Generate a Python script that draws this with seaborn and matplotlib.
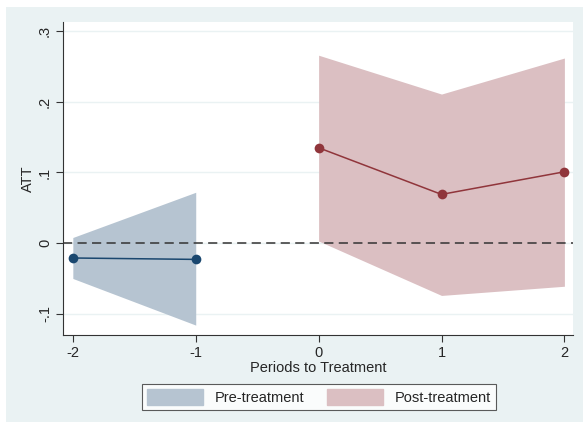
import numpy as np
import pandas as pd
import matplotlib
matplotlib.use("Agg")
import matplotlib.pyplot as plt
import matplotlib.patches as mpatches
import seaborn as sns

# datos
periodos_pre = [-2, -1]
att_pre = [-0.021, -0.023]
ci_low_pre = [-0.050, -0.116]
ci_high_pre = [0.008, 0.072]

periodos_post = [0, 1, 2]
att_post = [0.135, 0.069, 0.101]
ci_low_post = [0.003, -0.074, -0.061]
ci_high_post = [0.266, 0.211, 0.262]

yticks = [-0.1, 0, 0.1, 0.2, 0.3]
ytick_labels = ["-.1", "0", ".1", ".2", ".3"]
xticks = [-2, -1, 0, 1, 2]

navy = "#1a476f"
maroon = "#90353b"
fill_pre = "#b6c4d1"
fill_post = "#dbbfc2"
fondo = "#eaf2f3"

sns.set_style("white")
plt.rcParams["font.family"] = ["Liberation Sans", "DejaVu Sans"]

fig = plt.figure(figsize=(5.83, 4.26), dpi=100, facecolor="white")
fig.patches.append(mpatches.Rectangle((6 / 583, 4 / 426), 1 - 6 / 583, 1 - 11 / 426,
                                      transform=fig.transFigure, facecolor=fondo,
                                      edgecolor="none", zorder=-10))
ax = fig.add_axes([63 / 583, 91 / 426, 510 / 583, 313 / 426])
ax.set_facecolor("white")

df_pre = pd.DataFrame({"t": periodos_pre, "att": att_pre})
df_post = pd.DataFrame({"t": periodos_post, "att": att_post})

for y in yticks:
    ax.axhline(y, color=fondo, lw=1.0, zorder=0)

ax.fill_between(periodos_pre, ci_low_pre, ci_high_pre, color=fill_pre, lw=0, zorder=1)
ax.fill_between(periodos_post, ci_low_post, ci_high_post, color=fill_post, lw=0, zorder=1)
ax.axhline(0, color="#333333", lw=1.1, ls=(0, (6, 3.5)), zorder=2)

sns.lineplot(data=df_pre, x="t", y="att", ax=ax, color=navy, marker="o",
             markersize=7, markeredgewidth=0, lw=1.1, zorder=3)
sns.lineplot(data=df_post, x="t", y="att", ax=ax, color=maroon, marker="o",
             markersize=7, markeredgewidth=0, lw=1.1, zorder=3)

ax.set_xlim(-2.08, 2.07)
ax.set_ylim(-0.13, 0.313)
ax.set_xticks(xticks)
ax.set_xticklabels([str(x) for x in xticks], fontsize=10.5)
ax.set_yticks(yticks)
ax.set_yticklabels(ytick_labels, fontsize=10.5, rotation=90, va="center")
ax.tick_params(axis="both", length=5, width=0.8, color="#333333", direction="out",
               bottom=True, left=True, pad=3)
ax.set_xlabel("Periods to Treatment", fontsize=10.5, labelpad=1)
ax.set_ylabel("ATT", fontsize=10.5, labelpad=2)

for lado in ["top", "right"]:
    ax.spines[lado].set_visible(False)
for lado in ["left", "bottom"]:
    ax.spines[lado].set_color("#333333")
    ax.spines[lado].set_linewidth(0.8)

handles = [mpatches.Patch(color=fill_pre, label="Pre-treatment"),
           mpatches.Patch(color=fill_post, label="Post-treatment")]
leg = fig.legend(handles=handles, loc="center", bbox_to_anchor=(319 / 583, 1 - 397 / 426),
                 ncol=2, fontsize=10.5, frameon=True, fancybox=False,
                 handlelength=3.8, handleheight=1.3, columnspacing=1.6,
                 borderpad=0.35, handletextpad=0.8)
leg.get_frame().set_edgecolor("#333333")
leg.get_frame().set_linewidth(0.8)

fig.savefig("out.png", dpi=100, facecolor=fig.get_facecolor())
